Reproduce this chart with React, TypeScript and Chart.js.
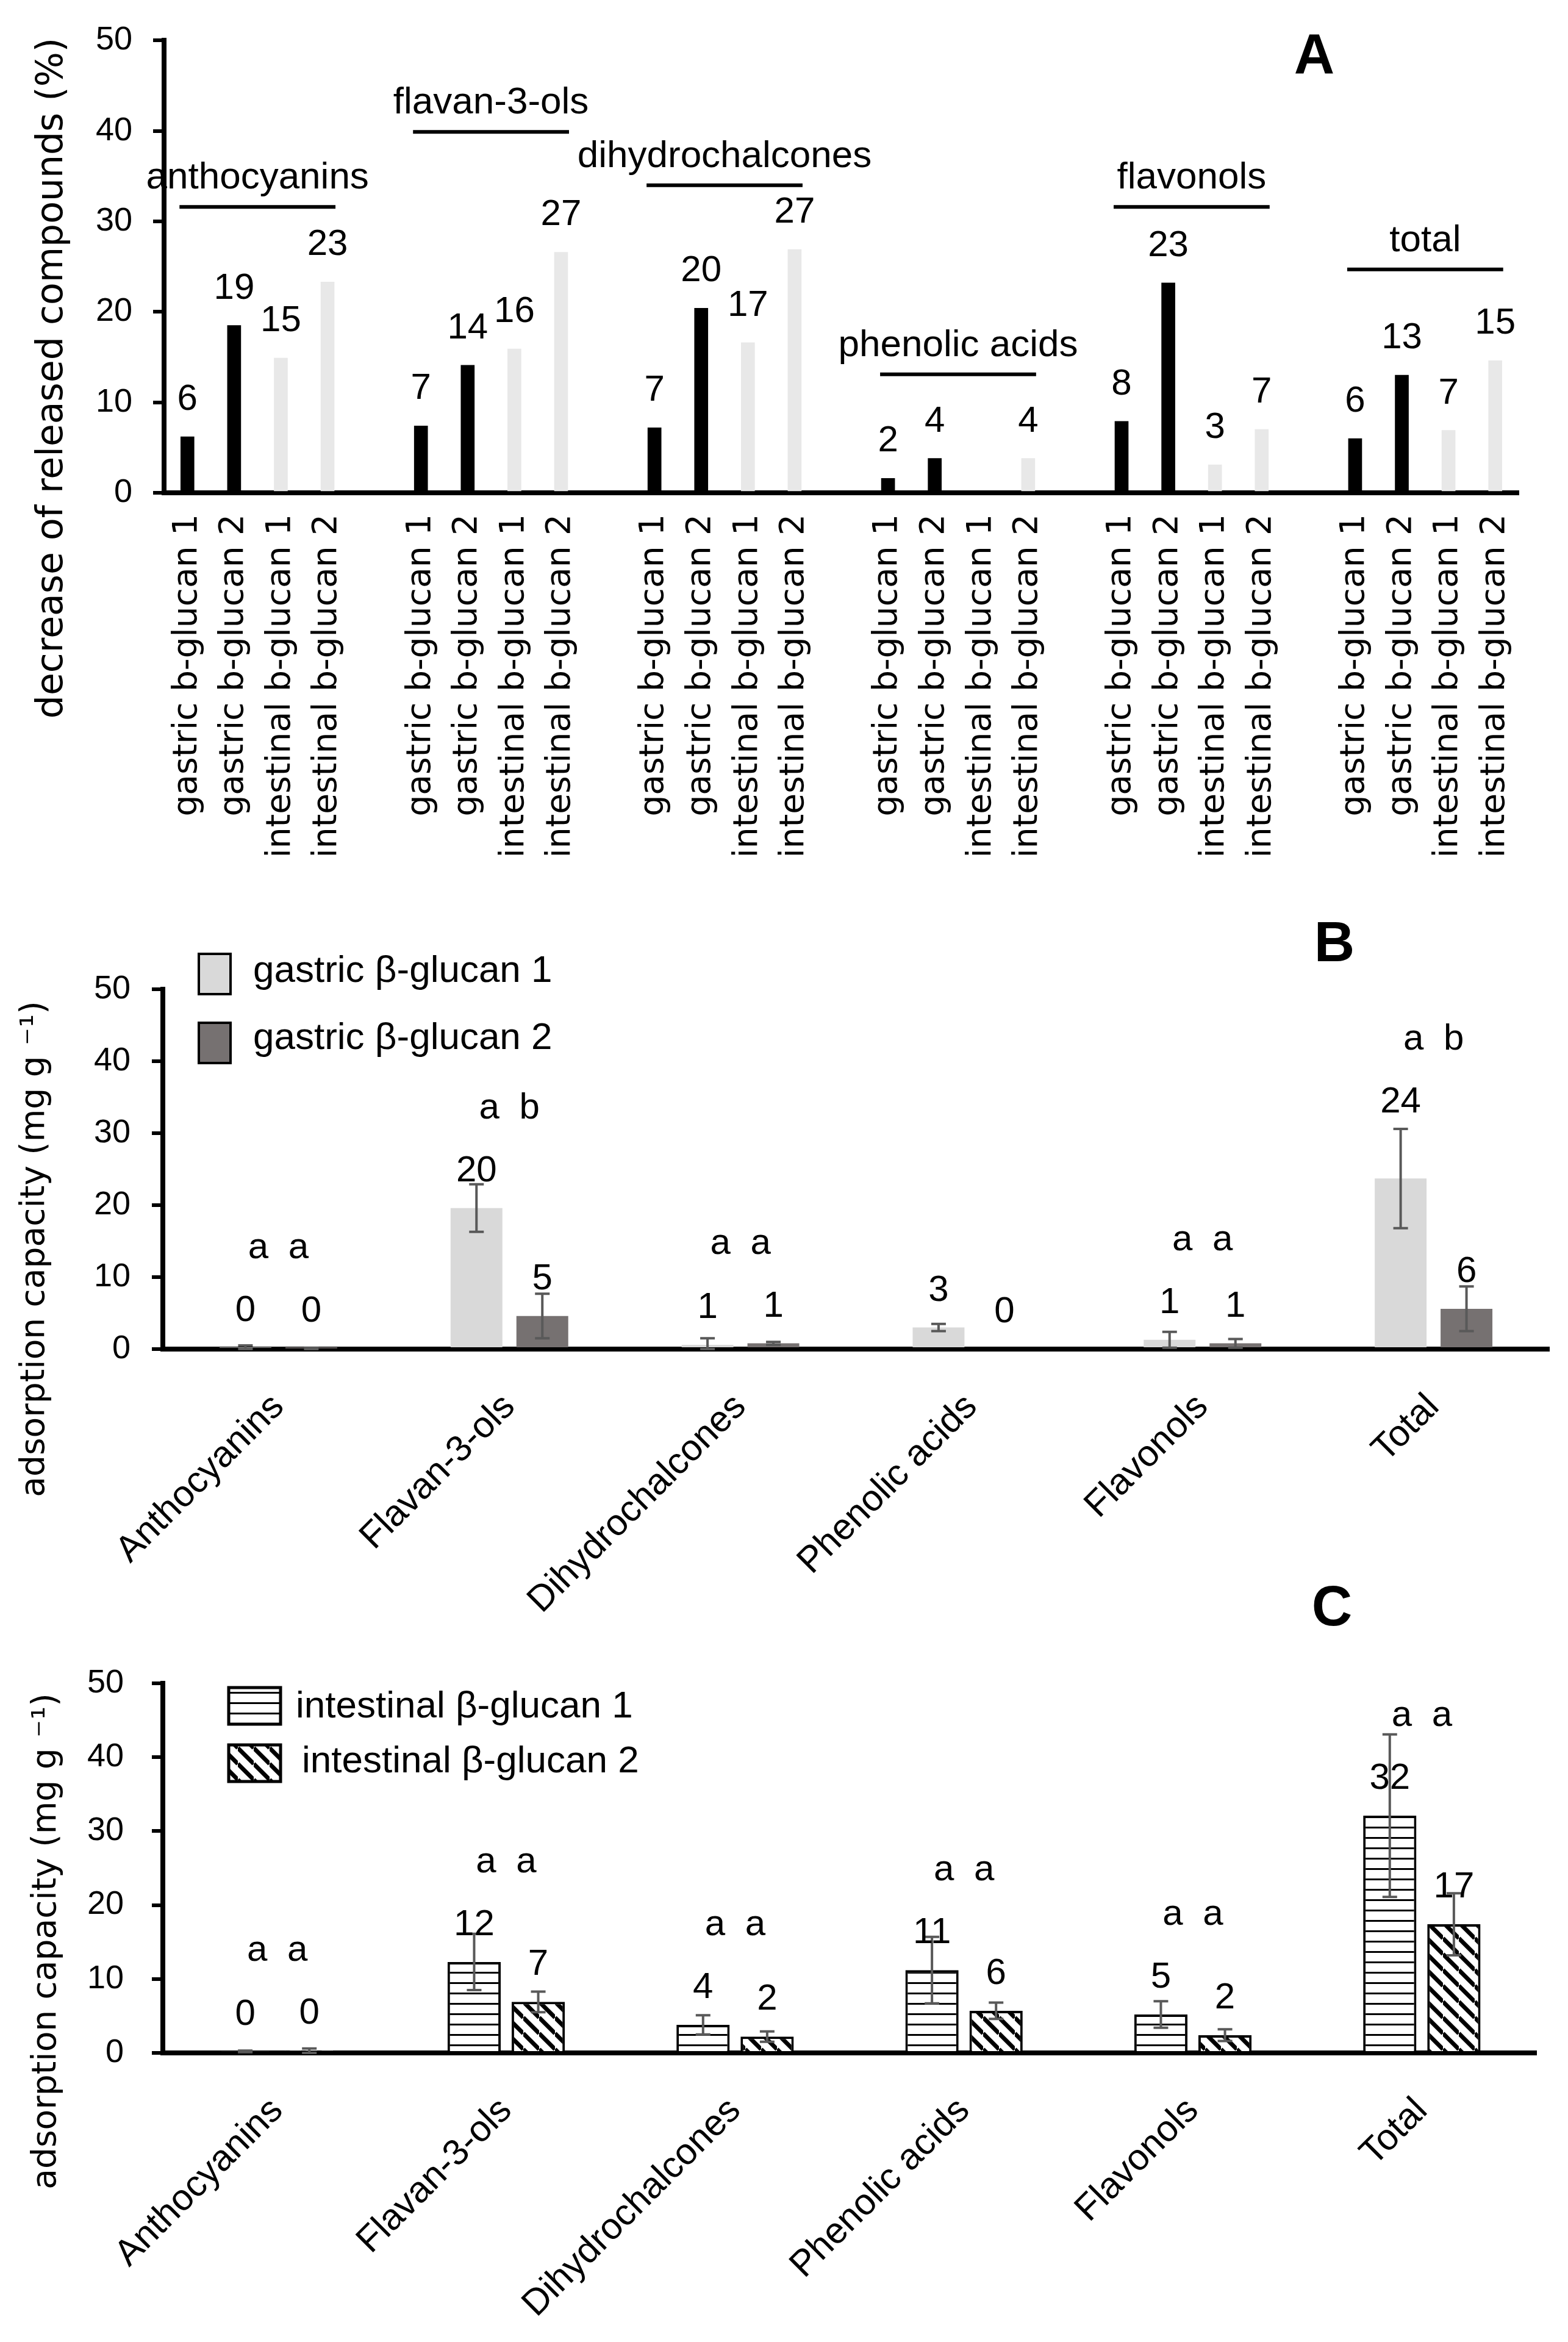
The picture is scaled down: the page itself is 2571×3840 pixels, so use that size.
import React, { useEffect, useRef } from 'react';
import { Chart, registerables } from 'chart.js';
Chart.register(...registerables);

const SANS = '"Liberation Sans", Arial, sans-serif';
const DEJAVU = '"DejaVu Sans", Verdana, sans-serif';

// ---------------- Panel A data ----------------
const classesA = ['anthocyanins', 'flavan-3-ols', 'dihydrochalcones', 'phenolic acids', 'flavonols', 'total'];
const sampleLabelsA = ['gastric b-glucan 1', 'gastric b-glucan 2', 'intestinal b-glucan 1', 'intestinal b-glucan 2'];
const gastric1A: (number | null)[] = [6.2, 7.4, 7.2, 1.6, 7.9, 6.0];
const gastric2A: (number | null)[] = [18.5, 14.1, 20.4, 3.8, 23.2, 13.0];
const intestinal1A: (number | null)[] = [14.9, 15.9, 16.6, null, 3.1, 6.9];
const intestinal2A: (number | null)[] = [23.3, 26.6, 26.9, 3.8, 7.0, 14.6];
const bracketLevelsA = [31.6, 39.9, 34.0, 13.1, 31.6, 24.7];
const yTitleA = 'decrease of released compounds (%)';

// ---------------- Panel B / C data ----------------
const categoriesBC = ['Anthocyanins', 'Flavan-3-ols', 'Dihydrochalcones', 'Phenolic acids', 'Flavonols', 'Total'];
const gastric1B = [0.2, 19.6, 0.6, 3.0, 1.3, 23.7];
const gastric2B = [0.1, 4.6, 0.8, 0, 0.8, 5.6];
const gastric1BErr = [0.3, 3.3, 0.9, 0.5, 1.1, 6.9];
const gastric2BErr = [0.1, 3.1, 0.2, 0, 0.6, 3.1];
const lettersB: (string[] | null)[] = [['a', 'a'], ['a', 'b'], ['a', 'a'], null, ['a', 'a'], ['a', 'b']];

const intestinal1C = [0.2, 12.3, 3.8, 11.2, 5.2, 32.1];
const intestinal2C = [0.3, 6.9, 2.2, 5.7, 2.4, 17.4];
const intestinal1CErr = [0.1, 3.8, 1.3, 4.5, 1.8, 11.0];
const intestinal2CErr = [0.3, 1.4, 0.7, 1.1, 0.8, 4.2];
const lettersC: (string[] | null)[] = [['a', 'a'], ['a', 'a'], ['a', 'a'], ['a', 'a'], ['a', 'a'], ['a', 'a']];

const yTitleBC = 'adsorption capacity (mg g \u207B\u00B9)';
const yMin = 0;
const yMax = 50;
const yStep = 10;

// ---------------- helpers ----------------
function drawYTitle(ctx: CanvasRenderingContext2D, text: string, cx: number, cy: number, size: number) {
  ctx.save();
  ctx.translate(cx, cy);
  ctx.rotate(-Math.PI / 2);
  ctx.font = `${size}px ${DEJAVU}`;
  ctx.fillStyle = '#000';
  ctx.textAlign = 'center';
  ctx.textBaseline = 'middle';
  ctx.fillText(text, 0, 0);
  ctx.restore();
}

function drawPanelLetter(ctx: CanvasRenderingContext2D, letter: string, cx: number, baseline: number) {
  ctx.save();
  ctx.font = `bold 92px ${SANS}`;
  ctx.fillStyle = '#000';
  ctx.textAlign = 'center';
  ctx.textBaseline = 'alphabetic';
  ctx.fillText(letter, cx, baseline);
  ctx.restore();
}

function yAxisOpts(width: number, tickPad: number) {
  return {
    min: yMin,
    max: yMax,
    ticks: { stepSize: yStep, padding: tickPad, color: '#000', font: { family: 'Liberation Sans', size: 54 } },
    grid: { display: true, drawOnChartArea: false, drawTicks: true, tickLength: 18, lineWidth: 6, color: '#000' },
    border: { display: true, width: 8, color: '#000' },
    afterFit: (s: any) => { s.width = width; },
  };
}

function makeChartA(canvas: HTMLCanvasElement): Chart {
  const slotLabels: string[] = [];
  const slotValues: (number | null)[] = [];
  const slotColors: string[] = [];
  classesA.forEach((_, gi) => {
    if (gi > 0) { slotLabels.push(''); slotValues.push(null); slotColors.push('#fff'); }
    const vals = [gastric1A[gi], gastric2A[gi], intestinal1A[gi], intestinal2A[gi]];
    vals.forEach((v, k) => {
      slotLabels.push(sampleLabelsA[k]);
      slotValues.push(v);
      slotColors.push(k < 2 ? '#000000' : '#e8e8e8');
    });
  });

  const plugin = {
    id: 'panelA',
    afterDatasetsDraw(chart: any) {
      const ctx: CanvasRenderingContext2D = chart.ctx;
      const xs = chart.scales.x;
      const ys = chart.scales.y;
      ctx.save();
      ctx.fillStyle = '#000';
      ctx.textAlign = 'center';
      ctx.textBaseline = 'alphabetic';
      ctx.font = `60px ${SANS}`;
      slotValues.forEach((v, i) => {
        if (v == null) return;
        const x = xs.getPixelForValue(i);
        const y = ys.getPixelForValue(v);
        ctx.fillText(String(Math.round(v)), x, y - 44);
      });
      classesA.forEach((name, gi) => {
        const x1 = xs.getPixelForValue(gi * 5);
        const x2 = xs.getPixelForValue(gi * 5 + 3);
        const cx = (x1 + x2) / 2;
        const half = (x2 - x1) / 2 + 13;
        const y = ys.getPixelForValue(bracketLevelsA[gi]);
        ctx.strokeStyle = '#000';
        ctx.lineWidth = 6;
        ctx.beginPath();
        ctx.moveTo(cx - half, y);
        ctx.lineTo(cx + half, y);
        ctx.stroke();
        ctx.font = `62px ${SANS}`;
        ctx.fillText(name, cx, y - 30);
      });
      ctx.restore();
    },
    afterDraw(chart: any) {
      drawYTitle(chart.ctx, yTitleA, 86, 620, 60);
      drawPanelLetter(chart.ctx, 'A', 2155, 120);
    },
  };

  return new Chart(canvas, {
    type: 'bar',
    data: {
      labels: slotLabels,
      datasets: [{ data: slotValues, backgroundColor: slotColors, barThickness: 22 } as any],
    },
    options: {
      responsive: false,
      animation: false,
      devicePixelRatio: 1,
      layout: { padding: { left: 0, top: 54, right: 81, bottom: 0 } },
      plugins: { legend: { display: false }, tooltip: { enabled: false } },
      scales: {
        x: {
          type: 'category',
          z: 1,
          grid: { display: false, drawTicks: false },
          border: { display: true, width: 8, color: '#000' },
          ticks: {
            autoSkip: false, minRotation: 90, maxRotation: 90, padding: 35, color: '#000',
            font: { family: 'DejaVu Sans', size: 55 },
          },
          afterFit: (s: any) => { s.height = 642; },
        } as any,
        y: yAxisOpts(269, 34) as any,
      },
    },
    plugins: [plugin],
  });
}

interface SeriesCfg { label: string; values: number[]; errors: number[]; fill: any; border: number; }
interface PanelCfg {
  series: SeriesCfg[];
  letters: (string[] | null)[];
  padTop: number; xHeight: number; padRight: number; yWidth: number; tickPad: number;
  catPct: number; barPct: number; xPad: number;
  titleX: number; titleY: number;
  letter: string; letterX: number; letterY: number;
  legendBoxX: number; legendBoxW: number; legendBoxH: number; legendBorder: number;
  legendRows: { boxY: number; textX: number; textY: number }[];
  liftLargeError: boolean;
}

function makeAdsorptionChart(canvas: HTMLCanvasElement, cfg: PanelCfg): Chart {
  const plugin = {
    id: 'adsorption',
    afterDatasetsDraw(chart: any) {
      const ctx: CanvasRenderingContext2D = chart.ctx;
      const xs = chart.scales.x;
      const ys = chart.scales.y;
      const baselines: number[][] = [];
      ctx.save();
      cfg.series.forEach((s, d) => {
        const meta = chart.getDatasetMeta(d);
        meta.data.forEach((el: any, i: number) => {
          const v = s.values[i];
          const e = s.errors[i];
          const x = el.x;
          const yv = ys.getPixelForValue(v);
          let topE = yv;
          if (e > 0) {
            topE = ys.getPixelForValue(v + e);
            const bot = ys.getPixelForValue(Math.max(v - e, 0));
            ctx.strokeStyle = '#595959';
            ctx.lineWidth = 4;
            ctx.beginPath();
            ctx.moveTo(x, topE); ctx.lineTo(x, bot);
            ctx.moveTo(x - 12, topE); ctx.lineTo(x + 12, topE);
            ctx.moveTo(x - 12, bot); ctx.lineTo(x + 12, bot);
            ctx.stroke();
          }
          let base = yv - 44;
          if (cfg.liftLargeError && e > 5) base = Math.min(base, topE - 27);
          ctx.fillStyle = '#000';
          ctx.font = `60px ${SANS}`;
          ctx.textAlign = 'center';
          ctx.textBaseline = 'alphabetic';
          ctx.fillText(String(Math.round(v)), x, base);
          (baselines[i] = baselines[i] || []).push(base);
        });
      });
      cfg.letters.forEach((pair, i) => {
        if (!pair) return;
        const cx = xs.getPixelForValue(i);
        const minBase = Math.min(...baselines[i]);
        const y = minBase - 103;
        ctx.fillText(pair[0], cx - 33, y);
        ctx.fillText(pair[1], cx + 33, y);
      });
      ctx.restore();
    },
    afterDraw(chart: any) {
      const ctx: CanvasRenderingContext2D = chart.ctx;
      drawYTitle(ctx, yTitleBC, cfg.titleX, cfg.titleY, 55);
      drawPanelLetter(ctx, cfg.letter, cfg.letterX, cfg.letterY);
      ctx.save();
      cfg.series.forEach((s, d) => {
        const row = cfg.legendRows[d];
        ctx.fillStyle = s.fill;
        ctx.fillRect(cfg.legendBoxX, row.boxY, cfg.legendBoxW, cfg.legendBoxH);
        ctx.strokeStyle = '#000';
        ctx.lineWidth = cfg.legendBorder;
        ctx.strokeRect(cfg.legendBoxX, row.boxY, cfg.legendBoxW, cfg.legendBoxH);
        ctx.fillStyle = '#000';
        ctx.font = `62px ${SANS}`;
        ctx.textAlign = 'left';
        ctx.textBaseline = 'middle';
        ctx.fillText(s.label, row.textX, row.textY);
      });
      ctx.restore();
    },
  };

  return new Chart(canvas, {
    type: 'bar',
    data: {
      labels: categoriesBC,
      datasets: cfg.series.map((s) => ({
        label: s.label,
        data: s.values,
        backgroundColor: s.fill,
        borderColor: '#000',
        borderWidth: s.border,
        categoryPercentage: cfg.catPct,
        barPercentage: cfg.barPct,
      })) as any,
    },
    options: {
      responsive: false,
      animation: false,
      devicePixelRatio: 1,
      layout: { padding: { left: 0, top: cfg.padTop, right: cfg.padRight, bottom: 0 } },
      plugins: { legend: { display: false }, tooltip: { enabled: false } },
      scales: {
        x: {
          type: 'category',
          z: 1,
          grid: { display: false, drawTicks: false },
          border: { display: true, width: 8, color: '#000' },
          ticks: {
            autoSkip: false, minRotation: 45, maxRotation: 45, padding: cfg.xPad, color: '#000',
            font: { family: 'Liberation Sans', size: 60 },
          },
          afterFit: (s: any) => { s.height = cfg.xHeight; },
        } as any,
        y: yAxisOpts(cfg.yWidth, cfg.tickPad) as any,
      },
    },
    plugins: [plugin],
  });
}

function hStripePattern(ctx: CanvasRenderingContext2D): CanvasPattern {
  const c = document.createElement('canvas');
  c.width = 16; c.height = 17;
  const g = c.getContext('2d')!;
  g.fillStyle = '#fff'; g.fillRect(0, 0, 16, 17);
  g.fillStyle = '#000'; g.fillRect(0, 7, 16, 3);
  return ctx.createPattern(c, 'repeat')!;
}

function diagStripePattern(ctx: CanvasRenderingContext2D): CanvasPattern {
  const s = 26;
  const c = document.createElement('canvas');
  c.width = s; c.height = s;
  const g = c.getContext('2d')!;
  g.fillStyle = '#fff'; g.fillRect(0, 0, s, s);
  g.strokeStyle = '#000'; g.lineWidth = 7;
  g.beginPath();
  for (const k of [-1, 0, 1]) { g.moveTo(0, k * s); g.lineTo(s, s + k * s); }
  g.stroke();
  return ctx.createPattern(c, 'repeat')!;
}

export default function App() {
  const refA = useRef<HTMLCanvasElement>(null);
  const refB = useRef<HTMLCanvasElement>(null);
  const refC = useRef<HTMLCanvasElement>(null);

  useEffect(() => {
    const charts: Chart[] = [];
    if (refA.current) charts.push(makeChartA(refA.current));
    if (refB.current) {
      charts.push(makeAdsorptionChart(refB.current, {
        series: [
          { label: 'gastric \u03B2-glucan 1', values: gastric1B, errors: gastric1BErr, fill: '#d9d9d9', border: 0 },
          { label: 'gastric \u03B2-glucan 2', values: gastric2B, errors: gastric2BErr, fill: '#767171', border: 0 },
        ],
        letters: lettersB,
        padTop: 172, xHeight: 638, padRight: 31, yWidth: 267, tickPad: 35,
        catPct: 0.57, barPct: 0.787, xPad: 60,
        titleX: 58, titleY: 598,
        letter: 'B', letterX: 2188, letterY: 126,
        legendBoxX: 326, legendBoxW: 52, legendBoxH: 66, legendBorder: 4,
        legendRows: [{ boxY: 114, textX: 415, textY: 143 }, { boxY: 227, textX: 415, textY: 253 }],
        liftLargeError: true,
      }));
    }
    if (refC.current) {
      const ctx = refC.current.getContext('2d')!;
      charts.push(makeAdsorptionChart(refC.current, {
        series: [
          { label: 'intestinal \u03B2-glucan 1', values: intestinal1C, errors: intestinal1CErr, fill: hStripePattern(ctx), border: 4 },
          { label: 'intestinal \u03B2-glucan 2', values: intestinal2C, errors: intestinal2CErr, fill: diagStripePattern(ctx), border: 4 },
        ],
        letters: lettersC,
        padTop: 180, xHeight: 474, padRight: 52, yWidth: 267, tickPad: 46,
        catPct: 0.56, barPct: 0.83, xPad: 60,
        titleX: 77, titleY: 603,
        letter: 'C', letterX: 2184, letterY: 85,
        legendBoxX: 375, legendBoxW: 85, legendBoxH: 60, legendBorder: 5,
        legendRows: [{ boxY: 187, textX: 485, textY: 219 }, { boxY: 281, textX: 495, textY: 309 }],
        liftLargeError: false,
      }));
    }
    return () => { charts.forEach((c) => c.destroy()); };
  }, []);

  return (
    <div style={{ position: 'absolute', left: 0, top: 0, width: 2571, height: 3840, background: '#fff' }}>
      <canvas ref={refA} width={2571} height={1450} style={{ position: 'absolute', left: 0, top: 0 }} />
      <canvas ref={refB} width={2571} height={1400} style={{ position: 'absolute', left: 0, top: 1450 }} />
      <canvas ref={refC} width={2571} height={1260} style={{ position: 'absolute', left: 0, top: 2580 }} />
    </div>
  );
}
